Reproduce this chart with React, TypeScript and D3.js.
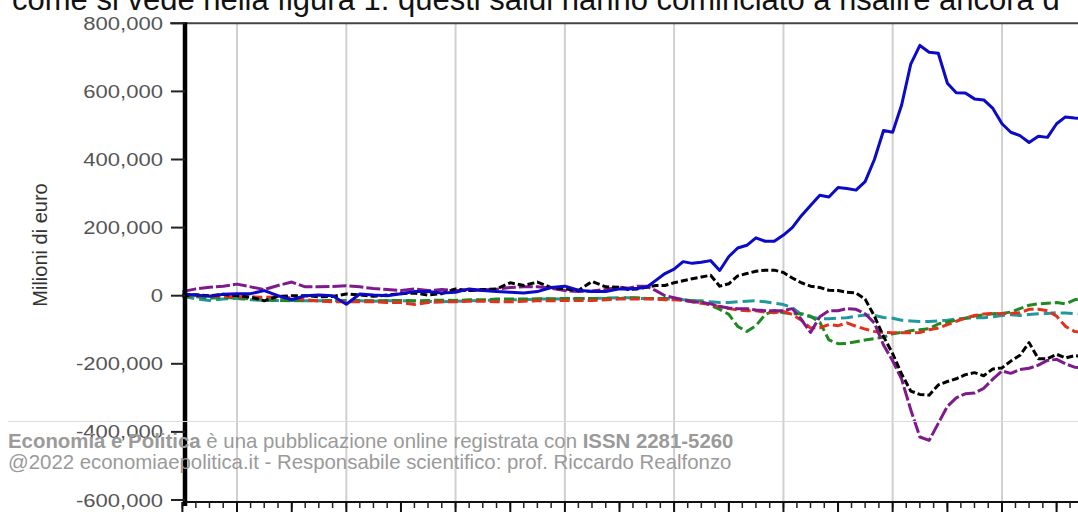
import React from "react";
import * as d3 from "d3";

// Dates: quarterly 1999-2006, bimonthly 2007-2015
const dates: string[] = [
  "1999-01","1999-04","1999-07","1999-10","2000-01","2000-04","2000-07","2000-10",
  "2001-01","2001-04","2001-07","2001-10","2002-01","2002-04","2002-07","2002-10",
  "2003-01","2003-04","2003-07","2003-10","2004-01","2004-04","2004-07","2004-10",
  "2005-01","2005-04","2005-07","2005-10","2006-01","2006-04","2006-07","2006-10",
  "2007-01","2007-03","2007-05","2007-07","2007-09","2007-11",
  "2008-01","2008-03","2008-05","2008-07","2008-09","2008-11",
  "2009-01","2009-03","2009-05","2009-07","2009-09","2009-11",
  "2010-01","2010-03","2010-05","2010-07","2010-09","2010-11",
  "2011-01","2011-03","2011-05","2011-07","2011-09","2011-11",
  "2012-01","2012-03","2012-05","2012-07","2012-09","2012-11",
  "2013-01","2013-03","2013-05","2013-07","2013-09","2013-11",
  "2014-01","2014-03","2014-05","2014-07","2014-09","2014-11",
  "2015-01","2015-03","2015-05","2015-07",
];

// Values in millions of euro
const blueSeries: number[] = [
  5000,2000,-2000,4000,6000,6000,15000,0,-12000,0,2000,0,-25000,5000,2000,0,
  6000,12000,12000,8000,10000,20000,15000,12000,10000,8000,12000,24000,28000,16000,12000,12000,
  20000,20000,22000,25000,45000,65000,78000,100000,95000,98000,103000,74000,
  115000,140000,148000,170000,160000,160000,178000,200000,235000,265000,295000,290000,
  318000,315000,310000,335000,400000,485000,480000,560000,680000,735000,715000,712000,
  624000,596000,595000,578000,575000,550000,505000,480000,470000,450000,468000,465000,
  505000,525000,522000,520000,
];
const blackSeries: number[] = [
  0,3000,0,4000,0,-4000,-15000,-2000,0,0,-3000,-2000,5000,2000,-2000,2000,
  6000,8000,2000,6000,20000,15000,18000,20000,38000,30000,40000,24000,20000,15000,42000,26000,
  25000,18000,20000,25000,30000,30000,38000,44000,50000,55000,60000,28000,
  35000,58000,65000,72000,75000,75000,68000,52000,38000,28000,24000,16000,
  15000,10000,8000,-10000,-60000,-120000,-170000,-230000,-280000,-290000,-292000,-262000,
  -252000,-244000,-232000,-226000,-235000,-215000,-212000,-192000,-175000,-138000,-185000,-185000,
  -172000,-183000,-176000,-178000,
];
const purpleSeries: number[] = [
  12000,20000,25000,28000,34000,26000,18000,30000,40000,26000,26000,27000,29000,26000,21000,18000,
  15000,20000,15000,18000,16000,15000,17000,19000,24000,26000,26000,22000,15000,12000,14000,18000,
  25000,22000,28000,28000,15000,0,-6000,-12000,-18000,-20000,-24000,-32000,
  -36000,-38000,-38000,-42000,-44000,-44000,-44000,-38000,-70000,-108000,-62000,-44000,
  -44000,-38000,-40000,-53000,-80000,-145000,-191000,-245000,-335000,-415000,-425000,-375000,
  -325000,-300000,-288000,-286000,-272000,-245000,-221000,-228000,-217000,-213000,-204000,-190000,
  -187000,-200000,-210000,-212000,
];
const greenSeries: number[] = [
  0,-3000,-8000,-5000,-7000,-9000,-10000,-14000,-15000,-14000,-15000,-14000,-15000,-14000,-15000,-14000,
  -14000,-15000,-14000,-13000,-14000,-12000,-12000,-10000,-10000,-10000,-9000,-9000,-8000,-8000,-8000,-8000,
  -8000,-6000,-6000,-8000,-8000,-8000,-10000,-12000,-15000,-18000,-28000,-40000,
  -55000,-90000,-105000,-88000,-55000,-44000,-50000,-53000,-53000,-60000,-78000,-130000,
  -141000,-140000,-135000,-130000,-126000,-122000,-112000,-108000,-103000,-100000,-97000,-83000,
  -77000,-72000,-66000,-60000,-56000,-53000,-52000,-48000,-38000,-28000,-24000,-22000,
  -20000,-24000,-12000,-8000,
];
const redSeries: number[] = [
  3000,0,0,-2000,-3000,-3000,-5000,-4000,-6000,-12000,-16000,-18000,-18000,-18000,-18000,-20000,
  -20000,-26000,-20000,-18000,-18000,-16000,-16000,-18000,-18000,-16000,-15000,-15000,-14000,-14000,-14000,-12000,
  -10000,-10000,-10000,-10000,-10000,-12000,-12000,-14000,-18000,-22000,-26000,-32000,
  -38000,-42000,-44000,-44000,-48000,-50000,-46000,-55000,-72000,-95000,-94000,-85000,
  -88000,-80000,-90000,-98000,-105000,-108000,-109000,-109000,-109000,-108000,-100000,-95000,
  -85000,-75000,-66000,-58000,-54000,-52000,-53000,-52000,-50000,-40000,-40000,-44000,
  -60000,-90000,-105000,-108000,
];
const tealSeries: number[] = [
  -2000,-9000,-14000,-10000,-8000,-12000,-14000,-14000,-14000,-15000,-15000,-15000,-15000,-15000,-16000,-15000,
  -15000,-16000,-17000,-18000,-16000,-15000,-14000,-13000,-12000,-12000,-10000,-10000,-9000,-9000,-8000,-7000,
  -6000,-6000,-8000,-8000,-9000,-9000,-10000,-12000,-14000,-15000,-18000,-20000,
  -20000,-18000,-16000,-15000,-18000,-22000,-26000,-35000,-55000,-62000,-68000,-68000,
  -66000,-65000,-60000,-57000,-58000,-64000,-66000,-72000,-74000,-76000,-76000,-74000,
  -72000,-68000,-66000,-65000,-65000,-62000,-58000,-56000,-58000,-55000,-53000,-52000,
  -50000,-51000,-53000,-54000,
];

const yTicks: number[] = [-600000, -400000, -200000, 0, 200000, 400000, 600000, 800000];

const topText = "come si vede nella figura 1: questi saldi hanno cominciato a risalire ancora d";
const yTitle = "Milioni di euro";
const footer1Bold = "Economia e Politica";
const footer1Rest = " è una pubblicazione online registrata con ";
const footer1Issn = "ISSN 2281-5260";
const footer2 = "@2022 economiaepolitica.it - Responsabile scientifico: prof. Riccardo Realfonzo";

const seriesList = [
  { name: "teal", values: tealSeries, color: "#23989c", dash: "12,5" },
  { name: "green", values: greenSeries, color: "#1f8a22", dash: "10,4" },
  { name: "red", values: redSeries, color: "#e2321e", dash: "10,4" },
  { name: "purple", values: purpleSeries, color: "#7e1a8c", dash: "14,3" },
  { name: "black", values: blackSeries, color: "#000000", dash: "7,3" },
  { name: "blue", values: blueSeries, color: "#0a0ac8", dash: null as string | null },
];

const FONT = "'Liberation Sans', Arial, Helvetica, sans-serif";

export default function App() {
  const W = 1078, H = 512;
  const parse = d3.timeParse("%Y-%m");
  const parsed = dates.map((d) => parse(d) as Date);
  const x = d3.scaleTime()
    .domain([new Date(1999, 0, 1), new Date(2015, 0, 1)])
    .range([182.4, 1056.6]);
  const y = d3.scaleLinear().domain([-600000, 800000]).range([500, 23.3]);

  const plotTop = y(800000);
  const axisY = 502;
  const axisX = 185;

  const gridDates = d3.timeYear.every(2)!.range(new Date(2000, 0, 1), new Date(2016, 0, 2));
  const majorDates = d3.timeYear.range(new Date(1999, 0, 1), new Date(2016, 0, 2));
  const minorDates = d3.timeMonth.every(3)!.range(new Date(1999, 0, 1), new Date(2016, 0, 2));

  const line = d3.line<number>()
    .x((_, i) => x(parsed[i]))
    .y((d) => y(d));

  return (
    <svg width={W} height={H} style={{ position: "absolute", left: 0, top: 0, background: "#fff" }}
      fontFamily={FONT}>
      <rect x={0} y={0} width={W} height={H} fill="#ffffff" />
      {/* top page text */}
      <text x={12} y={10} fontSize={31} fill="#111">{topText}</text>

      {/* vertical gridlines */}
      {gridDates.map((d, i) => (
        <line key={"g" + i} x1={x(d)} x2={x(d)} y1={plotTop} y2={axisY} stroke="#d0d0d0" strokeWidth={2} />
      ))}
      {/* top border */}
      <line x1={170} x2={W} y1={plotTop} y2={plotTop} stroke="#444" strokeWidth={2} />

      {/* series */}
      {seriesList.map((s) => (
        <path key={s.name} d={line(s.values) || ""} fill="none" stroke={s.color}
          strokeWidth={3} strokeDasharray={s.dash || undefined} strokeLinejoin="round" />
      ))}

      {/* y axis */}
      <line x1={axisX} x2={axisX} y1={plotTop - 1} y2={axisY + 4} stroke="#000" strokeWidth={4.5} />
      {yTicks.map((t) => (
        <g key={"yt" + t}>
          <line x1={171} x2={axisX} y1={y(t)} y2={y(t)} stroke="#222" strokeWidth={2} />
          <g transform={`translate(163,${y(t) + 6.5}) scale(1.16,1)`}>
            <text x={0} y={0} textAnchor="end" fontSize={19} fill="#555">{d3.format(",")(t).replace("−", "-")}</text>
          </g>
        </g>
      ))}
      <text transform={`translate(47,245) rotate(-90)`} textAnchor="middle" fontSize={20} fill="#333">{yTitle}</text>

      {/* x axis */}
      <line x1={axisX} x2={W} y1={axisY} y2={axisY} stroke="#111" strokeWidth={2} />
      {minorDates.map((d, i) => (
        <line key={"mn" + i} x1={x(d)} x2={x(d)} y1={axisY} y2={axisY + 6} stroke="#222" strokeWidth={1.5} />
      ))}
      {majorDates.map((d, i) => (
        <line key={"mj" + i} x1={x(d)} x2={x(d)} y1={axisY} y2={axisY + 12} stroke="#111" strokeWidth={2} />
      ))}

      {/* footer overlay */}
      <line x1={8} x2={W} y1={421.5} y2={421.5} stroke="#dcdcdc" strokeWidth={1} />
      <text x={8} y={448} fontSize={20.4} fill="#9a9a9a">
        <tspan fontWeight="bold">{footer1Bold}</tspan>
        <tspan>{footer1Rest}</tspan>
        <tspan fontWeight="bold">{footer1Issn}</tspan>
      </text>
      <text x={8} y={469} fontSize={20.4} fill="#9a9a9a">{footer2}</text>
    </svg>
  );
}
